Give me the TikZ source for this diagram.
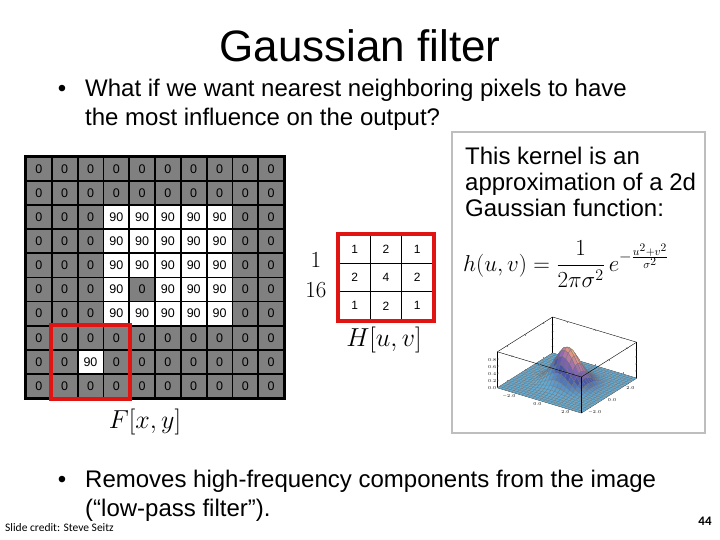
\RequirePackage{fix-cm}
\documentclass[tikz,border=0pt]{standalone}
\usepackage[no-math]{fontspec}
\setmainfont{Liberation Sans}
\newfontfamily\creditfont{Carlito}
\usepackage{pgfplots}
\pgfplotsset{compat=1.18}
\usetikzlibrary{positioning}
\definecolor{pixgray}{RGB}{128,128,128}
\definecolor{boxred}{RGB}{225,20,20}
\definecolor{panelgray}{RGB}{190,190,190}
\tikzset{
    pix/.style={shape=rectangle,draw,line width=1.8pt,minimum width=25.8pt,minimum height=24.1pt,inner sep=0pt,font=\fontsize{12.5}{13}\selectfont},
    kcell/.style={shape=rectangle,draw,line width=1.6pt,fill=white,minimum width=31.33pt,minimum height=28.33pt,inner sep=0pt,font=\fontsize{12}{13}\selectfont},
    bigtext/.style={font=\fontsize{24}{26}\selectfont,inner sep=0pt},
    mathlabel/.style={font=\fontsize{26}{28}\selectfont,inner sep=0pt},
  }

\begin{document}
\begin{tikzpicture}[x=1pt,y=1pt]
	\useasboundingbox (0,0) rectangle (720,540);
	    % title and first bullet
		    \node[font=\fontsize{44}{48}\selectfont,inner sep=0pt,anchor=base] (title) at (360,478) {Gaussian filter};
		    \node[bigtext,anchor=base] (dot1) at (62,443) {•};
		    \node[bigtext,anchor=base west] (q1) at (85,443) {What if we want nearest neighboring pixels to have};
		    \node[bigtext,anchor=base west] (q2) at (85,414) {the most influence on the output?};
	    % image F
		    \foreach \row [count=\r from 0] in {
		      {0,0,0,0,0,0,0,0,0,0},
		      {0,0,0,0,0,0,0,0,0,0},
		      {0,0,0,90,90,90,90,90,0,0},
		      {0,0,0,90,90,90,90,90,0,0},
		      {0,0,0,90,90,90,90,90,0,0},
		      {0,0,0,90,0,90,90,90,0,0},
		      {0,0,0,90,90,90,90,90,0,0},
		      {0,0,0,0,0,0,0,0,0,0},
		      {0,0,90,0,0,0,0,0,0,0},
		      {0,0,0,0,0,0,0,0,0,0}}
		      \foreach \v [count=\c from 0] in \row {
		        \ifnum\v=90 \def\pixfill{white}\else\def\pixfill{pixgray}\fi
		        \node[pix,fill=\pixfill] (f\r\c) at (38.9+25.8*\c,370.95-24.1*\r) {\v};
		      }
		    \draw[line width=3pt] (f00.north west) rectangle (f99.south east);
		    \draw[boxred,line width=4pt] (f71.north west) rectangle (f93.south east);
		    \node[mathlabel] (flabel) at (145,118) {$F[x,y]$};
	    % kernel H
		    \foreach \row [count=\r from 0] in {{1,2,1},{2,4,2},{1,2,1}}
		      \foreach \v [count=\c from 0] in \row
		        \node[kcell] (h\r\c) at (354.67+31.33*\c,290.83-28.33*\r) {\v};
		    \draw[boxred,line width=4pt] (h00.north west) rectangle (h22.south east);
		    \node[font=\fontsize{23}{24}\selectfont,inner sep=0pt] (num) at (316,280) {$1$};
		    \node[font=\fontsize{23}{24}\selectfont,inner sep=0pt] (den) at (316,250) {$16$};
		    \node[mathlabel] (hlabel) at (384,200) {$H[u,v]$};
	    % side panel
		    \draw[panelgray,line width=2.5pt] (452,107) rectangle (705,408);
		    \node[bigtext,anchor=base west] (p1) at (465,375) {This kernel is an};
		    \node[bigtext,anchor=base west] (p2) at (465,349) {approximation of a 2d};
		    \node[bigtext,anchor=base west] (p3) at (465,323) {Gaussian function:};
		    \node[font=\fontsize{23}{25}\selectfont,inner sep=0pt,anchor=west] (formula) at (463,276)
		      {$h(u,v) = \displaystyle\frac{1}{2\pi\sigma^2}\,e^{-\frac{u^2+v^2}{\sigma^2}}$};
		    \begin{axis}[at={(567pt,157pt)},anchor=origin,
		      x={(14pt,-4.2pt)},y={(9.2pt,5.8pt)},z={(0pt,36pt)},
		      xmin=-3,xmax=3,ymin=-3,ymax=3,zmin=0,zmax=1,
		      3d box=complete,axis line style={line width=0.4pt},
		      xtick={-2,0,2},ytick={-2,0,2},ztick={0,0.2,0.4,0.6,0.8},
		      major tick length=1.5pt,
		      tick label style={font=\ttfamily\fontsize{4.5}{5}\selectfont,inner sep=1pt,
		        /pgf/number format/fixed,/pgf/number format/fixed zerofill,/pgf/number format/precision=1},
		      point meta min=0,point meta max=1.3,
		      colormap={gaussmap}{rgb255=(100,172,212) rgb255=(70,85,165) rgb255=(150,105,180) rgb255=(230,150,130) rgb255=(245,235,130)}]
		      \addplot3[surf,samples=25,domain=-3:3,faceted color=black!55,line width=0.2pt,
		        point meta={max(0,exp(-(x^2+y^2)/1.2)*(1+0.5*(x+y)))}] {exp(-(x^2+y^2)/1.2)};
		    \end{axis}
	    % second bullet and footer
		    \node[bigtext,anchor=base] (dot2) at (62,52) {•};
		    \node[bigtext,anchor=base west] (r1) at (85,52) {Removes high-frequency components from the image};
		    \node[bigtext,anchor=base west] (r2) at (85,23) {(“low-pass filter”).};
		    \node[font=\creditfont\fontsize{11.5}{13}\selectfont,inner sep=0pt,anchor=base west] (credit) at (5,8) {Slide credit: Steve Seitz};
		    \node[font=\creditfont\bfseries\fontsize{13}{14}\selectfont,inner sep=0pt] (pagenum) at (705,19) {44};
		\end{tikzpicture}
\end{document}
